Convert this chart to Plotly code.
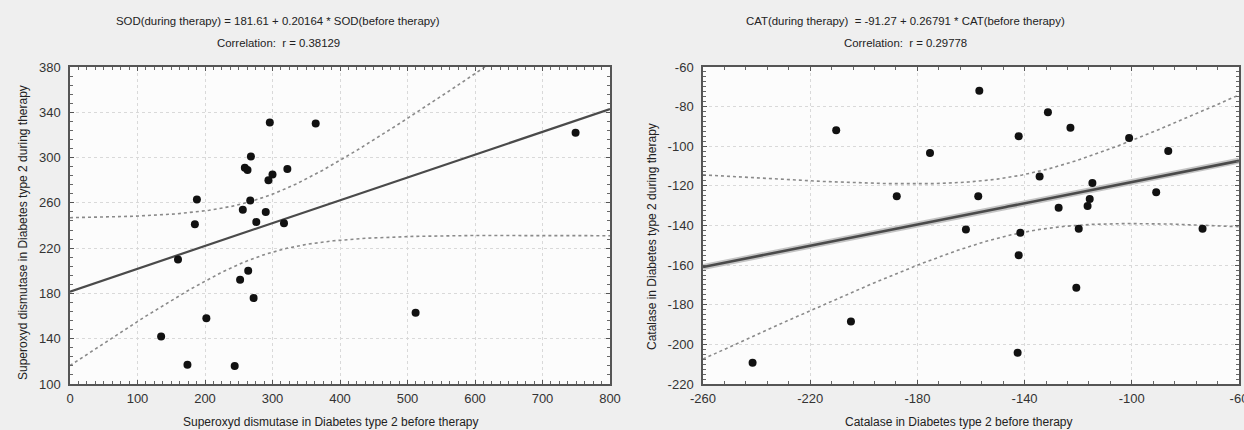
import numpy as np
import plotly.graph_objects as go

# ---------------- data ----------------
sod_before = [296, 364, 268, 259, 263, 322, 300, 294, 188, 267, 256, 290, 185, 276, 317,
              160, 264, 252, 272, 202, 135, 174, 244, 749, 512]
sod_during = [331, 330, 301, 291, 289, 290, 285, 280, 263, 262, 254, 252, 241, 243, 242,
              210, 200, 192, 176, 158, 142, 117, 116, 322, 163]
sod_a, sod_b = 181.61, 0.20164

cat_before = [-210.3, -175.3, -187.7, -157.3, -156.9, -161.9, -204.8, -241.5, -131.3, -122.9,
              -142.2, -101.0, -86.4, -134.4, -114.7, -90.9, -115.7, -116.5, -127.3, -119.8,
              -73.6, -141.6, -142.2, -120.7, -142.6]
cat_during = [-91.9, -103.4, -125.2, -125.2, -72.0, -142.0, -188.4, -209.3, -82.8, -90.7,
              -94.9, -95.8, -102.4, -115.3, -118.6, -123.2, -126.6, -130.2, -131.1, -141.7,
              -141.7, -143.7, -155.0, -171.4, -204.2]
cat_a, cat_b = -91.27, 0.26791

sod_title = ["SOD(during therapy) = 181.61 + 0.20164 * SOD(before therapy)", "Correlation:  r = 0.38129"]
cat_title = ["CAT(during therapy)  = -91.27 + 0.26791 * CAT(before therapy)", "Correlation:  r = 0.29778"]
sod_xlabel = "Superoxyd dismutase in Diabetes type 2 before therapy"
sod_ylabel = "Superoxyd dismutase in Diabetes type 2 during therapy"
cat_xlabel = "Catalase in Diabetes type 2 before therapy"
cat_ylabel = "Catalase in Diabetes type 2 during therapy"

sod_xticks = [0, 100, 200, 300, 400, 500, 600, 700, 800]
sod_yticks = [100, 140, 180, 220, 260, 300, 340, 380]
cat_xticks = [-260, -220, -180, -140, -100, -60]
cat_yticks = [-220, -200, -180, -160, -140, -120, -100, -80, -60]
cat_xticktext = ["-260", "-220", "-180", "-140", "-100", "-60"]
cat_yticktext = ["-220", "-200", "-180", "-160", "-140", "-120", "-100", "-80", "-60"]

sod_xrange, sod_yrange = [0, 800], [100, 380]
cat_xrange, cat_yrange = [-260, -60], [-220, -60]

T95 = 2.0687  # t quantile, df = 23


def fit_band(xs, ys, a, b, xr):
    x = np.asarray(xs, float)
    y = np.asarray(ys, float)
    n = len(x)
    se = np.sqrt(np.sum((y - (a + b * x)) ** 2) / (n - 2))
    sxx = np.sum((x - x.mean()) ** 2)
    g = np.linspace(xr[0], xr[1], 300)
    fit = a + b * g
    half = T95 * se * np.sqrt(1.0 / n + (g - x.mean()) ** 2 / sxx)
    return g, fit, fit - half, fit + half


fig = go.Figure()

panels = [
    (sod_before, sod_during, sod_a, sod_b, sod_xrange, "x", "y", 2.2, False),
    (cat_before, cat_during, cat_a, cat_b, cat_xrange, "x2", "y2", 2.6, True),
]
for xs, ys, a, b, xr, xa, ya, lw, halo in panels:
    g, fit, lo, hi = fit_band(xs, ys, a, b, xr)
    for band in (lo, hi):
        fig.add_trace(go.Scatter(x=g, y=band, mode="lines", xaxis=xa, yaxis=ya,
                                 line=dict(color="#8a8a8a", width=1.6, dash="dot"),
                                 hoverinfo="skip", showlegend=False))
    if halo:
        fig.add_trace(go.Scatter(x=g, y=fit, mode="lines", xaxis=xa, yaxis=ya,
                                 line=dict(color="#c4c4c4", width=6),
                                 hoverinfo="skip", showlegend=False))
    fig.add_trace(go.Scatter(x=g, y=fit, mode="lines", xaxis=xa, yaxis=ya,
                             line=dict(color="#4a4a4a", width=lw),
                             hoverinfo="skip", showlegend=False))
    fig.add_trace(go.Scatter(x=xs, y=ys, mode="markers", xaxis=xa, yaxis=ya,
                             marker=dict(color="#111111", size=8),
                             showlegend=False))

W, H = 1244, 430
tick_font = dict(family="Liberation Sans, Arial, sans-serif", size=13, color="#333333")


def axis(rng, tickvals, ticktext, minor_dtick, domain, anchor):
    return dict(range=rng, tickmode="array", tickvals=tickvals, ticktext=ticktext,
                domain=domain, anchor=anchor, automargin=False, ticklabeloverflow="allow",
                showline=True, linecolor="#555555", linewidth=1.5, mirror="allticks",
                ticks="inside", ticklen=4, tickcolor="#555555", tickwidth=1,
                minor=dict(tickmode="linear", tick0=rng[0], dtick=minor_dtick, ticks="inside",
                           ticklen=3, tickcolor="#666666", tickwidth=1, showgrid=False),
                showgrid=True, gridcolor="#d9d9d9", gridwidth=1, griddash="dot",
                zeroline=False, tickfont=tick_font, fixedrange=True)


ydom = [1 - 384 / H, 1 - 67 / H]
fig.update_layout(
    width=W, height=H,
    margin=dict(l=0, r=0, t=0, b=0, autoexpand=False),
    paper_bgcolor="#efefef", plot_bgcolor="#fcfcfc",
    xaxis=axis(sod_xrange, sod_xticks, [str(v) for v in sod_xticks], 12.5, [70 / W, 610 / W], "y"),
    yaxis=axis(sod_yrange, sod_yticks, [str(v) for v in sod_yticks], 8, ydom, "x"),
    xaxis2=axis(cat_xrange, cat_xticks, cat_xticktext, 8, [703 / W, 1239 / W], "y2"),
    yaxis2=axis(cat_yrange, cat_yticks, cat_yticktext, 2.5, ydom, "x2"),
)
fig.update_xaxes(ticklabelstandoff=2)
fig.update_yaxes(ticklabelstandoff=5)

title_font = dict(family="Liberation Sans, Arial, sans-serif", size=11.4, color="#222222")
label_font = dict(family="Liberation Sans, Arial, sans-serif", size=12, color="#222222")
ann = []
for cx, lines in ((278, sod_title), (905, cat_title)):
    for i, t in enumerate(lines):
        ann.append(dict(text=t, x=cx / W, y=1 - (21 + 22 * i) / H, xref="paper", yref="paper",
                        showarrow=False, font=title_font, xanchor="center", yanchor="middle"))
for cx, t in ((331, sod_xlabel), (958, cat_xlabel)):
    ann.append(dict(text=t, x=cx / W, y=1 - 422 / H, xref="paper", yref="paper",
                    showarrow=False, font=label_font, xanchor="center", yanchor="middle"))
for cx, cy, t in ((23, 233, sod_ylabel), (652, 237, cat_ylabel)):
    ann.append(dict(text=t, x=cx / W, y=1 - cy / H, xref="paper", yref="paper", textangle=-90,
                    showarrow=False, font=label_font, xanchor="center", yanchor="middle"))
fig.update_layout(annotations=ann)

fig.write_html("out.html")
